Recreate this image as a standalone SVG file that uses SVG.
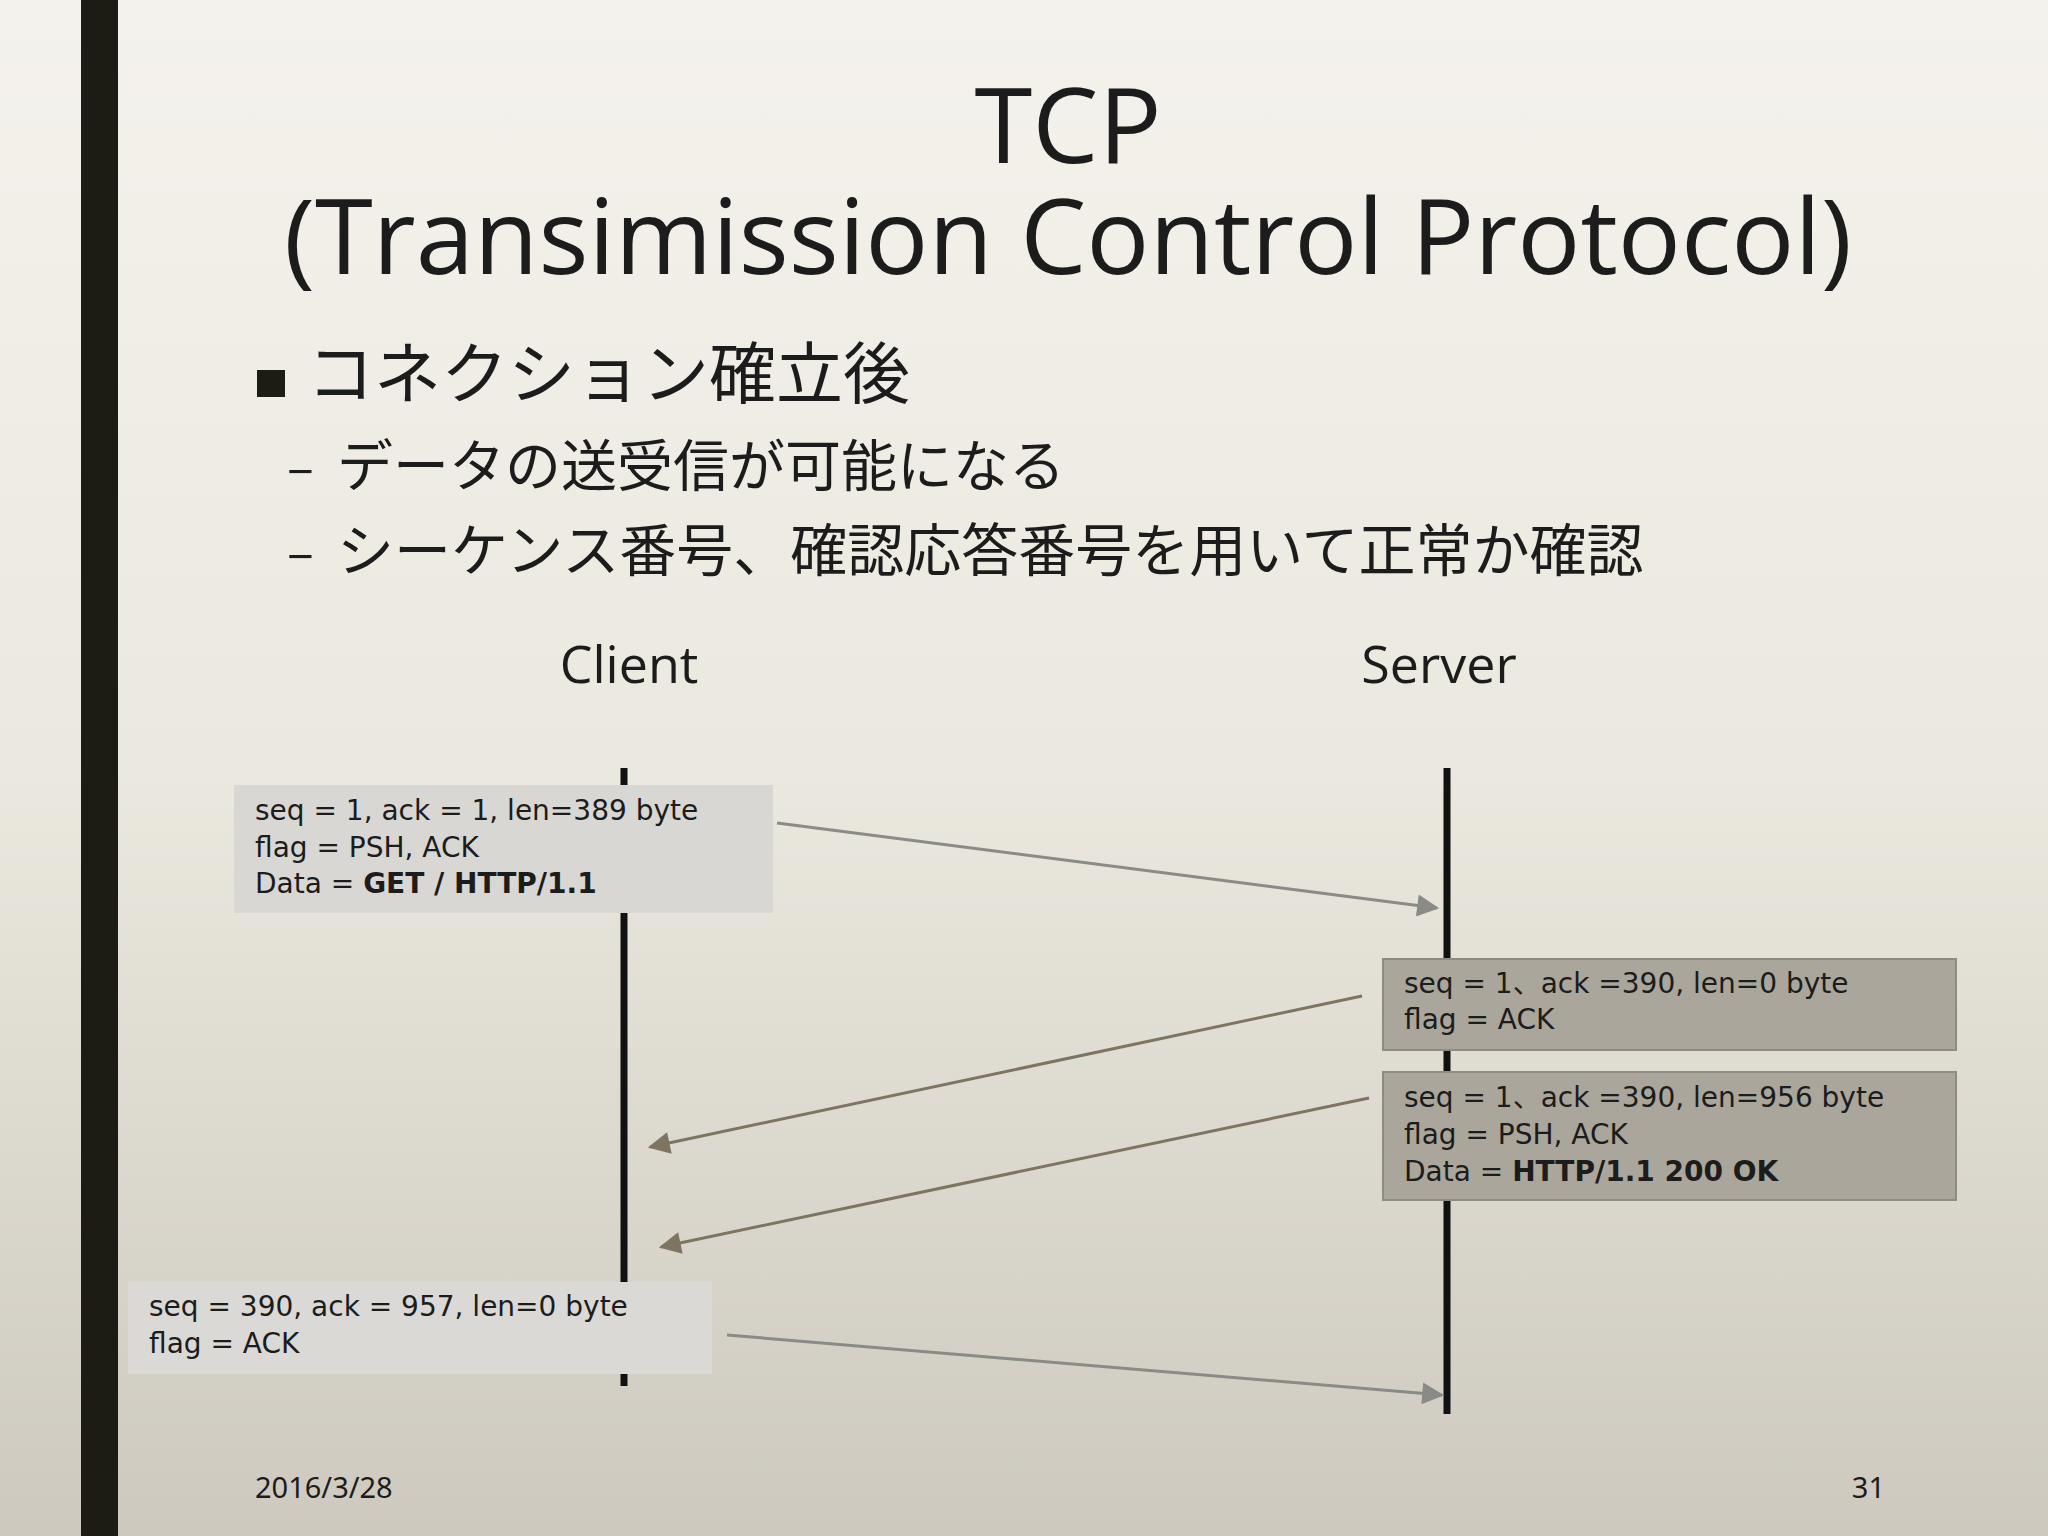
<svg xmlns="http://www.w3.org/2000/svg" width="2048" height="1536" viewBox="0 0 2048 1536">
<defs>
<linearGradient id="bg" x1="0" y1="0" x2="0" y2="1"><stop offset="0" stop-color="#f4f2ec"/><stop offset="0.5" stop-color="#ebe8df"/><stop offset="1" stop-color="#cdc9bf"/></linearGradient>
<marker id="ag" viewBox="0 0 10 10" refX="9" refY="5" markerWidth="26" markerHeight="22" markerUnits="userSpaceOnUse" orient="auto"><path d="M0,0 L10,5 L0,10 z" fill="#8a8a86"/></marker>
<marker id="ab" viewBox="0 0 10 10" refX="9" refY="5" markerWidth="26" markerHeight="22" markerUnits="userSpaceOnUse" orient="auto"><path d="M0,0 L10,5 L0,10 z" fill="#7d7560"/></marker>
<style>
text{font-family:"Noto Sans CJK JP","Noto Sans",sans-serif;fill:#1c1c1c}
.t{font-family:"Open Sans","Noto Sans CJK JP",sans-serif;font-size:105px}
.m{font-family:"DejaVu Sans","Noto Sans CJK JP",sans-serif;font-size:28px}
.g{stroke:#8a8a86;stroke-width:3;fill:none;marker-end:url(#ag)}
.b{stroke:#7d7560;stroke-width:3;fill:none;marker-end:url(#ab)}
</style>
</defs>
<rect width="2048" height="1536" fill="url(#bg)"/>
<rect x="81" y="0" width="37" height="1536" fill="#1c1c14"/>
<text class="t" x="1068" y="163" text-anchor="middle">TCP</text>
<text class="t" x="1068" y="274" text-anchor="middle">(Transimission Control Protocol)</text>
<rect x="257" y="370" width="28" height="27" fill="#1c1c14"/>
<text x="307" y="398" font-size="67">コネクション確立後</text>
<text x="287" y="486" font-size="50">–</text>
<text x="337" y="486" font-size="56">データの送受信が可能になる</text>
<text x="287" y="571" font-size="50">–</text>
<text x="337" y="571" font-size="57">シーケンス番号、確認応答番号を用いて正常か確認</text>
<g id="client"><text x="629" y="683" font-size="52" text-anchor="middle" style="font-family:'Open Sans',sans-serif">Client</text>
<line x1="624" y1="768" x2="624" y2="1386" stroke="#111" stroke-width="7"/></g>
<g id="server"><text x="1439" y="683" font-size="52" text-anchor="middle" style="font-family:'Open Sans',sans-serif">Server</text>
<line x1="1447" y1="768" x2="1447" y2="1414" stroke="#111" stroke-width="7"/></g>
<g id="box1"><rect x="234" y="785" width="539" height="128" fill="#d8d7d3"/>
<text class="m" x="255" y="820">seq = 1, ack = 1, len=389 byte</text>
<text class="m" x="255" y="857">flag = PSH, ACK</text>
<text class="m" x="255" y="893">Data = <tspan font-weight="bold">GET / HTTP/1.1</tspan></text></g>
<g id="box2"><rect x="1383" y="959" width="573" height="91" fill="#aaa69b" stroke="#8f8b80" stroke-width="2"/>
<text class="m" x="1404" y="993">seq = 1、ack =390, len=0 byte</text>
<text class="m" x="1404" y="1029">flag = ACK</text></g>
<g id="box3"><rect x="1383" y="1072" width="573" height="128" fill="#aaa69b" stroke="#8f8b80" stroke-width="2"/>
<text class="m" x="1404" y="1107">seq = 1、ack =390, len=956 byte</text>
<text class="m" x="1404" y="1144">flag = PSH, ACK</text>
<text class="m" x="1404" y="1181">Data = <tspan font-weight="bold">HTTP/1.1 200 OK</tspan></text></g>
<g id="box4"><rect x="128" y="1282" width="584" height="92" fill="#dad9d5"/>
<text class="m" x="149" y="1316">seq = 390, ack = 957, len=0 byte</text>
<text class="m" x="149" y="1353">flag = ACK</text></g>
<g id="connectors">
<line class="g" x1="777" y1="823" x2="1437" y2="908"/>
<line class="b" x1="1362" y1="996" x2="650" y2="1147"/>
<line class="b" x1="1369" y1="1098" x2="661" y2="1247"/>
<line class="g" x1="727" y1="1335" x2="1442" y2="1395"/>
</g>
<text x="255" y="1498" font-size="29" style="font-family:'Noto Sans',sans-serif">2016/3/28</text>
<text x="1885" y="1498" font-size="29" text-anchor="end" style="font-family:'Noto Sans',sans-serif">31</text>
</svg>
